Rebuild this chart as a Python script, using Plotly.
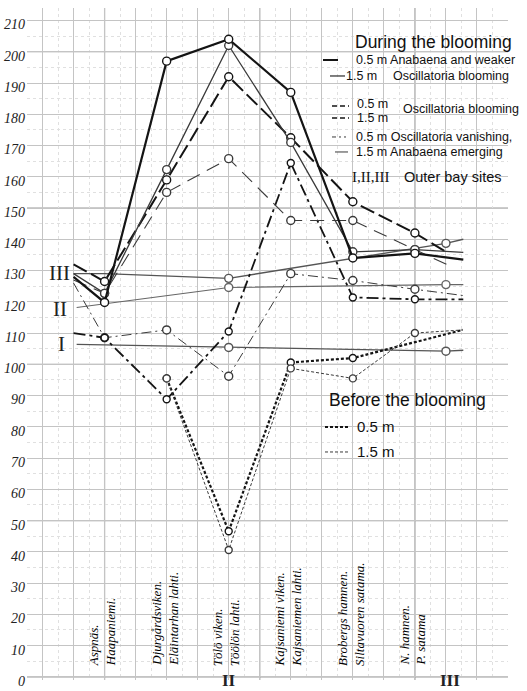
import plotly.graph_objects as go

# ---------------- data ----------------
site_x = [1, 2, 3, 4, 5, 6]
site_names = [
    ("Aspnäs.", "Haapaniemi."),
    ("Djurgårdsviken.", "Eläintarhan lahti."),
    ("Tölö viken.", "Töölön lahti."),
    ("Kajsaniemi viken.", "Kajsaniemen lahti."),
    ("Brobergs hamnen.", "Siltavuoren satama."),
    ("N. hamnen.", "P. satama"),
]
outer_site_x = [3, 6.5]
outer_site_labels = ["II", "III"]
y_ticks = list(range(0, 211, 10))

# During the blooming
anab05_x = [0.5, 1, 2, 3, 4, 5, 6, 6.78]
anab05_y = [128, 119.8, 197, 204, 187, 134, 135.5, 133.5]
anab15_x = [0.5, 1, 2, 3, 4, 5, 6, 6.78]
anab15_y = [129, 122.7, 162.3, 202, 171, 136, 136.7, 135.8]
osc05_x = [0.5, 1, 2, 3, 4, 5, 6, 6.5]
osc05_y = [132, 126.5, 159, 192, 172.5, 152, 142, 136]
osc15_x = [0.5, 1, 2, 3, 4, 5, 6, 6.55]
osc15_y = [127, 122.7, 155, 165.8, 146, 146, 136.7, 131.6]
van05_x = [0.5, 1, 2, 3, 4, 5, 6, 6.78]
van05_y = [110, 108.5, 88.8, 110.5, 164.4, 121.4, 120.8, 120.8]
van15_x = [0.5, 1, 2, 3, 4, 5, 6, 6.78]
van15_y = [126, 108.5, 111, 96.2, 129, 126.8, 124, 122]

# Before the blooming
bef05_x = [2, 3, 4, 5, 6.77]
bef05_y = [95.5, 46.6, 100.6, 102, 111]
bef15_x = [2, 3, 4, 5, 6, 6.77]
bef15_y = [95.5, 40.6, 98.7, 95.5, 110, 111]

# Outer bay sites I, II, III
outI_x = [0.55, 3, 6.5, 6.78]
outI_y = [106.4, 105.4, 104.2, 104.5]
outII_x = [0.55, 3, 6.5, 6.78]
outII_y = [118.2, 124.6, 125.5, 125.5]
outIII_x = [0.5, 1, 3, 6.5, 6.78]
outIII_y = [129, 129, 127.5, 138.7, 140]

# ---------------- styling helpers ----------------
THICK = "#141414"
THIN = "#3a3a3a"
GREY = "#555555"

def marker_opacity(xs, mark_x):
    return [1 if x in mark_x else 0 for x in xs]

def add_series(fig, xs, ys, color, width, dash, mark_x, msize=8):
    fig.add_trace(go.Scatter(
        x=xs, y=ys, mode="lines+markers",
        line=dict(color=color, width=width, dash=dash),
        marker=dict(symbol="circle", size=msize, color="white",
                    opacity=marker_opacity(xs, mark_x),
                    line=dict(color=color, width=1.4)),
        showlegend=False, hoverinfo="skip", cliponaxis=False))

fig = go.Figure()

# outer lines
add_series(fig, outIII_x, outIII_y, GREY, 1.4, "solid", outer_site_x, 8)
add_series(fig, outII_x, outII_y, "#666666", 1.1, "solid", outer_site_x, 8)
add_series(fig, outI_x, outI_y, GREY, 1.3, "solid", outer_site_x, 8)

# before
add_series(fig, bef05_x, bef05_y, THICK, 2.2, "3px,2px", site_x, 7)
add_series(fig, bef15_x, bef15_y, THIN, 1.0, "3px,2px", site_x, 7)

# during
add_series(fig, van15_x, van15_y, THIN, 1.0, "10px,4px,2px,4px", site_x, 8)
add_series(fig, van05_x, van05_y, THICK, 1.8, "12px,4px,3px,4px", site_x, 7)
add_series(fig, osc15_x, osc15_y, THIN, 1.1, "14px,8px", site_x, 8)
add_series(fig, osc05_x, osc05_y, THICK, 2.0, "15px,5px", site_x, 8)
add_series(fig, anab15_x, anab15_y, THIN, 1.3, "solid", site_x, 8)
add_series(fig, anab05_x, anab05_y, THICK, 2.2, "solid", site_x, 8)

# ---------------- pixel -> data helpers for annotations ----------------
def dx(px):
    return 1 + (px - 104.6) / 62.06

def dy(py):
    return (676.9 - py) / 3.1256

annotations = []
SERIF = "Liberation Serif"
SANS = "Liberation Sans"

# station names (vertical, italic)
for sx, (n1, n2) in zip(site_x, site_names):
    annotations.append(dict(
        x=sx - 0.03, y=dy(667), xref="x", yref="y",
        text=n1 + "<br>" + n2, textangle=-90, showarrow=False,
        xanchor="center", yanchor="bottom", align="left", borderpad=0,
        font=dict(family=SERIF, size=13, color="#000", style="italic")))

# Roman numerals under the axis (paper y, below plot area)
for ox, lab in zip(outer_site_x, outer_site_labels):
    annotations.append(dict(
        x=ox + (0.06 if lab == "III" else 0), y=-0.0165, xref="x",
        yref="paper", text=lab, showarrow=False, xanchor="center",
        yanchor="bottom", borderpad=0,
        font=dict(family=SERIF, size=17, color="#222", weight="bold")))

# Roman numerals at the left
for lab, px, py in [("III", 60, 273), ("II", 60, 309), ("I", 62, 344)]:
    annotations.append(dict(
        x=dx(px), y=dy(py), xref="x", yref="y", text=lab, showarrow=False,
        xanchor="center", yanchor="middle",
        font=dict(family=SERIF, size=21, color="#222")))

def txt(text, px, py, size=12.5, family=SANS):
    annotations.append(dict(
        x=dx(px), y=dy(py), xref="x", yref="y", text=text, showarrow=False,
        xanchor="left", yanchor="middle", borderpad=0,
        font=dict(family=family, size=size, color="#111")))

txt("During the blooming", 354, 42, 17.5)
txt("0.5 m Anabaena and weaker", 355, 60)
txt("1.5 m", 345, 76)
txt("Oscillatoria blooming", 392, 76)
txt("0.5 m", 356, 104)
txt("1.5 m", 356, 118)
txt("Oscillatoria blooming", 402, 109)
txt("0.5 m Oscillatoria vanishing,", 355, 137)
txt("1.5 m Anabaena emerging", 355, 152)
txt("I,II,III", 351, 177, 15, SERIF)
txt("Outer bay sites", 403, 177, 14.5)
txt("Before the blooming", 328, 400, 17.5)
txt("0.5 m", 356, 427, 15)
txt("1.5 m", 356, 452, 15)

# legend swatches (decorative shapes)
swatches = [
    (323, 338, 60, THICK, 2.0, "solid"),
    (330, 345, 76, THIN, 1.3, "solid"),
    (332, 349, 106, THICK, 1.4, "5px,3px"),
    (332, 349, 118, THICK, 1.6, "5px,3px"),
    (332, 346, 137, THIN, 1.0, "4px,3px,2px,3px"),
    (335, 348, 152, THIN, 1.0, "solid"),
    (325, 350, 427, THICK, 2.0, "3px,2px"),
    (325, 350, 452, THIN, 1.0, "3px,2px"),
]
shapes = []
for x0, x1, yy, c, w, d in swatches:
    shapes.append(dict(type="line", xref="x", yref="y",
                       x0=dx(x0), x1=dx(x1), y0=dy(yy), y1=dy(yy),
                       line=dict(color=c, width=w, dash=d)))

# slightly darker major grid lines
for gx in [1, 3.5, 6]:
    shapes.append(dict(type="line", xref="x", yref="y", x0=gx, x1=gx,
                       y0=-1, y1=214, layer="below",
                       line=dict(color="#9a9a9a", width=1.2)))
for gy in [0, 50, 100, 150, 200]:
    shapes.append(dict(type="line", xref="x", yref="y", x0=-0.25, x1=7.5,
                       y0=gy, y1=gy, layer="below",
                       line=dict(color="#9a9a9a", width=1.2)))

fig.update_layout(
    width=527, height=691,
    margin=dict(l=27, r=19, t=8, b=11, autoexpand=False),
    paper_bgcolor="white", plot_bgcolor="white",
    annotations=annotations, shapes=shapes,
    xaxis=dict(range=[-0.25, 7.5], tick0=1, dtick=0.5, showticklabels=False,
               ticks="", showgrid=True, gridcolor="#c4c4c4", gridwidth=1,
               zeroline=False, showline=False, automargin=False,
               minor=dict(dtick=0.25, tick0=1, showgrid=True,
                          gridcolor="#e0e0e0", griddash="dot", gridwidth=1)),
    yaxis=dict(range=[-1, 214], tickvals=y_ticks,
               ticktext=[str(v) for v in y_ticks], ticks="",
               showgrid=True, gridcolor="#c4c4c4", gridwidth=1,
               zeroline=False, showline=False, automargin=False,
               ticklabelstandoff=1, ticklabelshift=4,
               tickfont=dict(family=SERIF, size=14, color="#222",
                             style="italic"),
               minor=dict(dtick=5, tick0=0, showgrid=True,
                          gridcolor="#e0e0e0", griddash="dot", gridwidth=1)),
)

fig.write_html(
    "out.html",
    config={"displayModeBar": False},
    post_script="document.body.style.margin='0';document.body.style.padding='0';",
)
